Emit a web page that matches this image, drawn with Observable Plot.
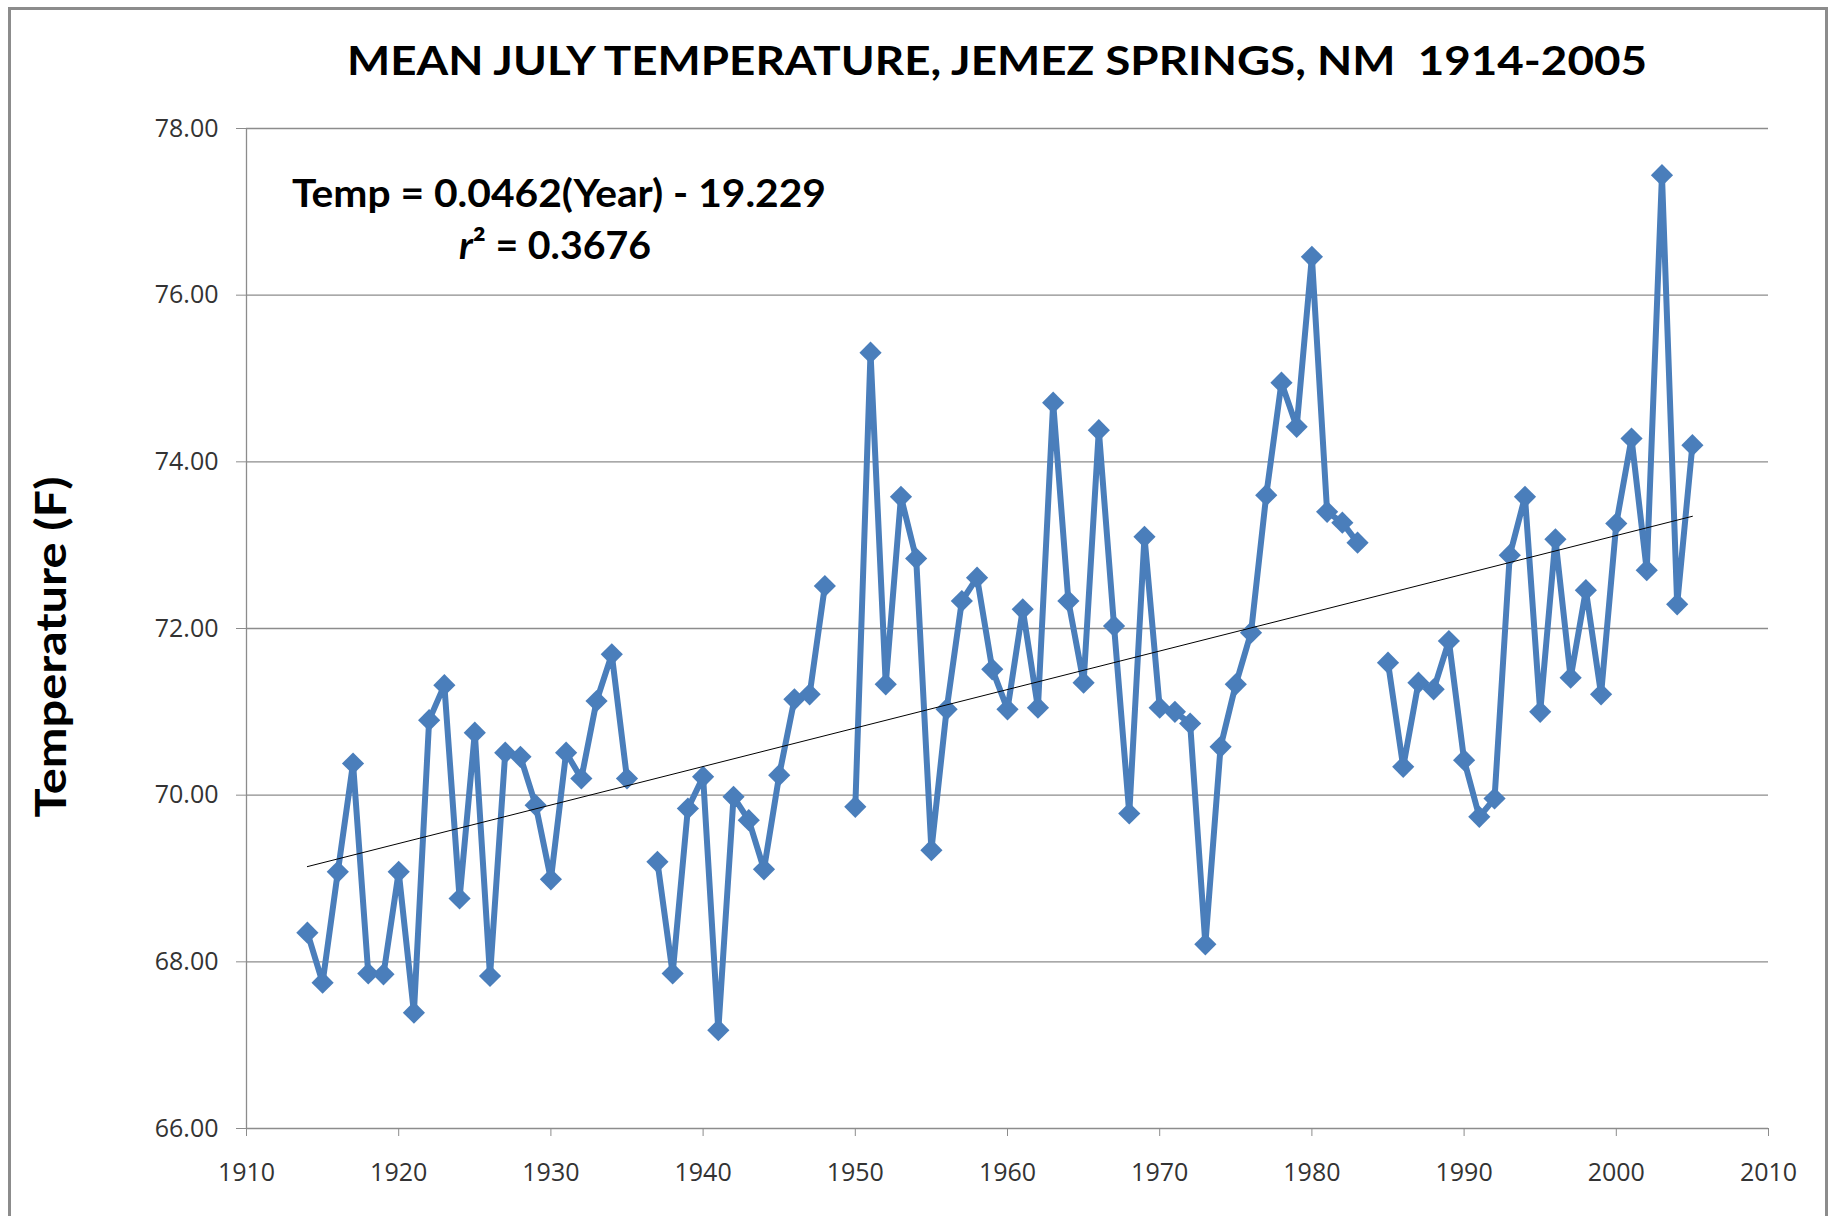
<!DOCTYPE html>
<html><head><meta charset="utf-8">
<script src="https://cdn.jsdelivr.net/npm/d3@7"></script>
<script src="https://cdn.jsdelivr.net/npm/@observablehq/plot@0.6"></script>
<style>
html,body{margin:0;padding:0;background:#fff;overflow:hidden}
#wrap{position:relative;width:1831px;height:1216px;overflow:hidden;background:#fff}
#frame{position:absolute;left:8px;top:7px;width:1820px;height:1400px;border:3px solid #8c8c8c;box-sizing:border-box}
#chart{position:absolute;left:0;top:0}
#over{position:absolute;left:0;top:0}
</style>
</head><body>
<div id="wrap"><div id="frame"></div><div id="chart"></div>
<svg id="over" width="1831" height="1216" font-family="Lato, 'Open Sans', sans-serif" font-weight="bold" fill="#000">
  <text x="997" y="75" font-size="41" text-anchor="middle" textLength="1300" lengthAdjust="spacingAndGlyphs" xml:space="preserve">MEAN JULY TEMPERATURE, JEMEZ SPRINGS, NM  1914-2005</text>
  <text x="559" y="207" font-size="38" text-anchor="middle" textLength="534" lengthAdjust="spacingAndGlyphs">Temp = 0.0462(Year) - 19.229</text>
  <text x="555" y="259" font-size="38" text-anchor="middle" textLength="192" lengthAdjust="spacingAndGlyphs"><tspan font-style="italic">r</tspan>² = 0.3676</text>
  <text transform="translate(66,647) rotate(-90)" font-size="42" text-anchor="middle" textLength="341" lengthAdjust="spacingAndGlyphs">Temperature (F)</text>
</svg>
</div>
<script>
const years = [1914,1915,1916,1917,1918,1919,1920,1921,1922,1923,1924,1925,1926,1927,1928,1929,1930,1931,1932,1933,1934,1935,1936,1937,1938,1939,1940,1941,1942,1943,1944,1945,1946,1947,1948,1949,1950,1951,1952,1953,1954,1955,1956,1957,1958,1959,1960,1961,1962,1963,1964,1965,1966,1967,1968,1969,1970,1971,1972,1973,1974,1975,1976,1977,1978,1979,1980,1981,1982,1983,1984,1985,1986,1987,1988,1989,1990,1991,1992,1993,1994,1995,1996,1997,1998,1999,2000,2001,2002,2003,2004,2005];
const temps = [68.35,67.75,69.08,70.38,67.86,67.85,69.08,67.39,70.90,71.32,68.76,70.75,67.83,70.51,70.46,69.88,68.99,70.51,70.20,71.13,71.69,70.20,null,69.20,67.86,69.84,70.22,67.18,69.98,69.70,69.11,70.24,71.15,71.21,72.51,null,69.86,75.31,71.33,73.58,72.84,69.34,71.03,72.33,72.61,71.51,71.03,72.23,71.05,74.71,72.33,71.35,74.38,72.03,69.78,73.10,71.05,71.00,70.86,68.21,70.58,71.33,71.95,73.60,74.95,74.42,76.46,73.40,73.27,73.03,null,71.59,70.34,71.35,71.27,71.85,70.42,69.74,69.96,72.88,73.58,71.00,73.07,71.41,72.46,71.21,73.26,74.28,72.70,77.44,72.29,74.20];
const xTicks = [1910,1920,1930,1940,1950,1960,1970,1980,1990,2000,2010];
const yTicks = [66,68,70,72,74,76,78];

const data = years.map((year, i) => ({year, temp: temps[i]}));
const valid = data.filter(d => d.temp != null);

const plot = Plot.plot({
  width: 1831, height: 1216,
  marginLeft: 246, marginRight: 63, marginTop: 128, marginBottom: 88,
  x: {domain: [1910, 2010]},
  y: {domain: [66, 78]},
  style: {fontFamily: "'Open Sans', sans-serif", fontSize: "25px", color: "#333", background: "transparent"},
  marks: [
    Plot.gridY({ticks: yTicks, stroke: "#8c8c8c", strokeOpacity: 1, strokeWidth: 1.3}),
    Plot.ruleX([1910], {stroke: "#8c8c8c", strokeWidth: 1.3}),
    Plot.axisY({ticks: yTicks, tickFormat: d => d.toFixed(2), tickSize: 10, tickPadding: 18, stroke: "#8c8c8c", label: null}),
    Plot.axisX({ticks: xTicks, tickFormat: d => String(d), tickSize: 8, tickPadding: 27, stroke: "#8c8c8c", label: null}),
    Plot.line(data, {x: "year", y: "temp", stroke: "#4A7EBB", strokeWidth: 6}),
    Plot.dot(valid, {x: "year", y: "temp", symbol: "diamond2", r: 10, fill: "#4A7EBB", stroke: "none"}),
    Plot.linearRegressionY(valid, {x: "year", y: "temp", stroke: "#000", strokeWidth: 1, ci: 0})
  ]
});
document.getElementById("chart").appendChild(plot);
</script>
</body></html>
